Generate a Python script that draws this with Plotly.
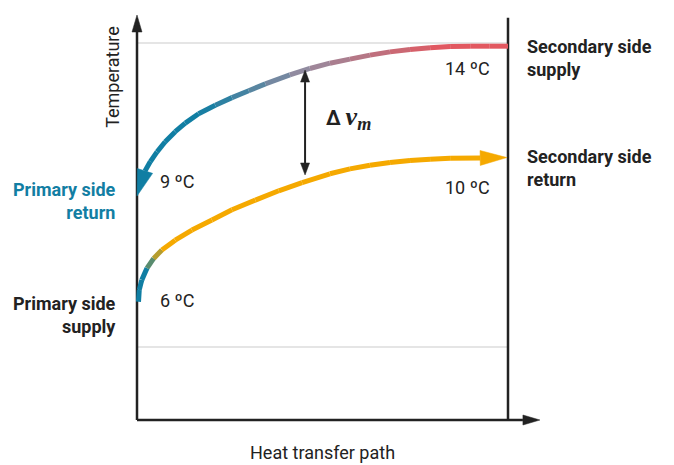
import math
import plotly.graph_objects as go

# ---------------- data ----------------
# Upper (cooling) curve, in flow direction: from the right end to the arrow tip at 9 ºC
upper_x = [1.0, 0.951, 0.898, 0.844, 0.790, 0.736, 0.682, 0.628, 0.574, 0.520, 0.466, 0.412,
           0.346, 0.301, 0.256, 0.211, 0.166, 0.130, 0.103, 0.076, 0.054, 0.036, 0.0216, 0.0]
upper_y = [92.3, 92.3, 92.3, 92.2, 91.9, 91.5, 90.9, 90.1, 89.1, 88.1, 86.8, 85.2,
           83.0, 81.3, 79.6, 77.7, 75.6, 73.3, 71.2, 68.7, 66.2, 63.8, 61.5, 55.3]

# Lower (warming) curve, in flow direction: from 6 ºC to the arrow tip at the right
lower_x = [0.004, 0.006, 0.013, 0.027, 0.045, 0.067, 0.103, 0.148, 0.202, 0.256, 0.319, 0.382,
           0.445, 0.520, 0.574, 0.628, 0.682, 0.736, 0.790, 0.844, 0.925, 0.997]
lower_y = [29.2, 32.1, 34.6, 37.5, 39.9, 42.0, 44.4, 46.9, 49.4, 51.9, 54.3, 56.6,
           58.6, 60.8, 62.0, 62.9, 63.6, 64.1, 64.4, 64.6, 64.7, 64.8]

grid_levels = [18.0, 93.1]
axis_x_end = 1.086
axis_y_end = 100.0
right_line_top = 99.3

delta_x = 0.453
delta_y = [60.5, 86.4]

temp_texts = ["14 ºC", "10 ºC", "9 ºC", "6 ºC"]
temp_x = [0.957, 0.957, 0.057, 0.057]
temp_y = [86.9, 57.5, 59.0, 29.6]
temp_anchor = ["right", "right", "left", "left"]

side_texts = ["Primary side<br>return", "Primary side<br>supply",
              "Secondary side<br>supply", "Secondary side<br>return"]
side_x = [-0.051, -0.051, 1.047, 1.047]
side_y = [54.0, 26.0, 89.5, 62.3]
side_anchor = ["right", "right", "left", "left"]

# ---------------- geometry / style ----------------
W, H = 666, 457          # page body adds an 8px margin -> fills the 674x465 window
X_PX = 371.0             # pixels per x unit
Y_PX = 4.05              # pixels per y unit
X0_PX, Y0_PX = 129, 412  # pixel position of the origin inside the figure
x_range = [-X0_PX / X_PX, (W - X0_PX) / X_PX]
y_range = [-(H - Y0_PX) / Y_PX, Y0_PX / Y_PX]

TEAL = (16, 126, 163)
GREY = (150, 140, 160)
RED = (226, 88, 96)
ORANGE = (245, 169, 0)
TEAL_HEX = "#127ea3"
DARK = "#222222"
FONT = "Roboto"


def lerp(c1, c2, t):
    t = max(0.0, min(1.0, t))
    return tuple(a + (b - a) * t for a, b in zip(c1, c2))


def rgb(c):
    return "rgb(%d,%d,%d)" % tuple(round(v) for v in c)


def upper_color(x):
    if x <= 0.45:
        return rgb(lerp(TEAL, GREY, (x - 0.17) / 0.28))
    return rgb(lerp(GREY, RED, (x - 0.45) / 0.37))


def lower_color(x):
    return rgb(lerp(TEAL, ORANGE, (x - 0.02) / 0.05))


def head(tip, base_from, length_px, width_px):
    """Triangle with tip at `tip`, pointing away from `base_from` (data coords)."""
    tx, ty = tip[0] * X_PX, tip[1] * Y_PX
    bx0, by0 = base_from[0] * X_PX, base_from[1] * Y_PX
    dx, dy = tx - bx0, ty - by0
    n = math.hypot(dx, dy)
    ux, uy = dx / n, dy / n
    L = length_px if length_px else n
    bx, by = tx - ux * L, ty - uy * L
    nx, ny = -uy, ux
    pts = [(tx, ty), (bx + nx * width_px / 2, by + ny * width_px / 2),
           (bx - nx * width_px / 2, by - ny * width_px / 2), (tx, ty)]
    return [p[0] / X_PX for p in pts], [p[1] / Y_PX for p in pts], (bx / X_PX, by / Y_PX)


fig = go.Figure()


def add_line(xs, ys, color, width):
    fig.add_trace(go.Scatter(x=xs, y=ys, mode="lines", line=dict(color=color, width=width),
                             hoverinfo="skip", showlegend=False))


def add_poly(xs, ys, color):
    fig.add_trace(go.Scatter(x=xs, y=ys, mode="lines", fill="toself", fillcolor=color,
                             line=dict(color=color, width=0.5), hoverinfo="skip", showlegend=False))


# axes
hx, hy, base = head((0, axis_y_end), (0, 0), 17, 10)
add_line([0, 0], [0, base[1]], DARK, 2.5)
add_poly(hx, hy, DARK)
hx, hy, base = head((axis_x_end, 0), (0, 0), 17, 10)
add_line([0, base[0]], [0, 0], DARK, 2.5)
add_poly(hx, hy, DARK)
add_line([1.0, 1.0], [0, right_line_top], DARK, 2.5)

# upper curve with gradient (teal -> grey -> red from left to right)
n = len(upper_x)
for i in range(n - 2):
    xm = (upper_x[i] + upper_x[i + 1]) / 2
    add_line(upper_x[i:i + 2], upper_y[i:i + 2], upper_color(xm), 5)
hx, hy, _ = head((upper_x[-1], upper_y[-1]), (upper_x[-2], upper_y[-2]), None, 16)
add_poly(hx, hy, rgb(TEAL))

# lower curve with gradient (teal -> orange)
n = len(lower_x)
for i in range(n - 2):
    xm = (lower_x[i] + lower_x[i + 1]) / 2
    add_line(lower_x[i:i + 2], lower_y[i:i + 2], lower_color(xm), 5)
hx, hy, _ = head((lower_x[-1], lower_y[-1]), (lower_x[-2], lower_y[-2]), None, 15)
add_poly(hx, hy, rgb(ORANGE))

# delta arrow
hx1, hy1, b1 = head((delta_x, delta_y[1]), (delta_x, delta_y[0]), 12, 9)
hx2, hy2, b2 = head((delta_x, delta_y[0]), (delta_x, delta_y[1]), 12, 9)
add_line([delta_x, delta_x], [b2[1], b1[1]], DARK, 2)
add_poly(hx1, hy1, DARK)
add_poly(hx2, hy2, DARK)

shapes = [dict(type="line", xref="x", yref="y", x0=0, x1=1.0, y0=g, y1=g,
               line=dict(color="#dcdcdc", width=1.5), layer="below") for g in grid_levels]

ann = []
for t, x, y, a in zip(temp_texts, temp_x, temp_y, temp_anchor):
    ann.append(dict(text=t, x=x, y=y, xref="x", yref="y", xanchor=a, yanchor="middle",
                    showarrow=False, font=dict(family=FONT, size=18, color=DARK)))
for i, (t, x, y, a) in enumerate(zip(side_texts, side_x, side_y, side_anchor)):
    color = TEAL_HEX if i == 0 else DARK
    ann.append(dict(text="<b>%s</b>" % t, x=x, y=y, xref="x", yref="y", xanchor=a, yanchor="middle",
                    align=a, showarrow=False, font=dict(family=FONT, size=18, color=color)))
ann.append(dict(text="Temperature", x=-0.065, y=84.7, xref="x", yref="y", textangle=-90,
                xanchor="center", yanchor="middle", showarrow=False,
                font=dict(family=FONT, size=18, color=DARK)))
ann.append(dict(text="Heat transfer path", x=0.501, y=-7.9, xref="x", yref="y",
                xanchor="center", yanchor="middle", showarrow=False,
                font=dict(family=FONT, size=18, color=DARK)))
ann.append(dict(text="<b>Δ</b> <span style=\"font-family:'Liberation Serif';font-size:26px\">"
                     "<b><i>v</i></b><sub><b><i>m</i></b></sub></span>",
                x=0.571, y=74.6, xref="x", yref="y", xanchor="center", yanchor="middle",
                showarrow=False, font=dict(family=FONT, size=20, color=DARK)))

fig.update_layout(
    width=W, height=H, autosize=False,
    margin=dict(l=0, r=0, t=0, b=0, pad=0),
    paper_bgcolor="white", plot_bgcolor="white",
    xaxis=dict(range=x_range, visible=False, fixedrange=True),
    yaxis=dict(range=y_range, visible=False, fixedrange=True),
    shapes=shapes, annotations=ann, showlegend=False,
)

fig.write_html("out.html")
